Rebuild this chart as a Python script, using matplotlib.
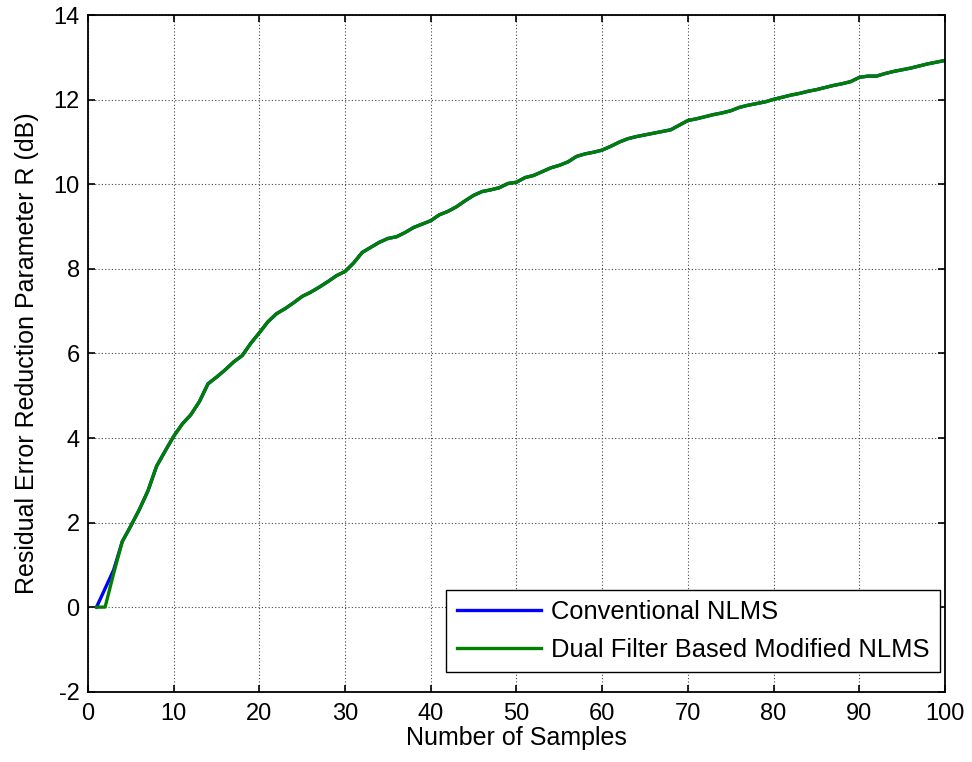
import matplotlib
matplotlib.use('Agg')
import matplotlib.pyplot as plt

# sample index 1..100
samples = list(range(1, 101))

# first few samples differ between the two filters
conv_head = [0.0, 0.44, 0.88]
dual_head = [0.0, 0.0, 0.80]

# R (dB) from sample 4 onward, identical for both methods
common_tail = [
    1.55, 1.92, 2.31, 2.75, 3.33, 3.69, 4.04,
    4.33, 4.55, 4.86, 5.28, 5.44, 5.61, 5.80, 5.95, 6.24, 6.49,
    6.75, 6.94, 7.06, 7.20, 7.35, 7.45, 7.57, 7.70, 7.84, 7.94,
    8.14, 8.39, 8.51, 8.63, 8.72, 8.76, 8.86, 8.98, 9.06, 9.14,
    9.28, 9.36, 9.47, 9.61, 9.74, 9.83, 9.87, 9.92, 10.02, 10.05,
    10.16, 10.21, 10.30, 10.39, 10.45, 10.53, 10.66, 10.72, 10.76, 10.81,
    10.90, 11.00, 11.08, 11.13, 11.17, 11.21, 11.25, 11.29, 11.40, 11.51,
    11.55, 11.60, 11.65, 11.69, 11.74, 11.82, 11.87, 11.91, 11.95, 12.01,
    12.06, 12.11, 12.15, 12.20, 12.24, 12.29, 12.34, 12.38, 12.43, 12.53,
    12.56, 12.56, 12.62, 12.67, 12.71, 12.75, 12.80, 12.85, 12.89, 12.93,
]

conv_nlms = conv_head + common_tail
dual_nlms = dual_head + common_tail

labels = ['Conventional NLMS', 'Dual Filter Based Modified NLMS']
x_ticks = list(range(0, 101, 10))
y_ticks = list(range(-2, 15, 2))

plt.rcParams['font.family'] = ['Liberation Sans', 'DejaVu Sans']
plt.rcParams['axes.unicode_minus'] = False

fig = plt.figure(figsize=(9.72, 7.62), dpi=100)
ax = fig.add_axes([0.0905, 0.0923, 0.8817, 0.8877])

ax.plot(samples, conv_nlms, color='#0000ff', lw=2.4, label=labels[0])
ax.plot(samples, dual_nlms, color='#008000', lw=2.4, label=labels[1])

ax.set_xlim(0, 100)
ax.set_ylim(-2, 14)
ax.set_xticks(x_ticks)
ax.set_yticks(y_ticks)
ax.tick_params(direction='in', length=5, width=1.2, top=True, right=True,
               labelsize=17)
ax.tick_params(axis='x', pad=8)
ax.tick_params(axis='y', pad=6)
ax.grid(True, color='#444444', linestyle=(0, (1, 2)), linewidth=0.8)
for sp in ax.spines.values():
    sp.set_linewidth(1.3)

ax.set_xlabel('Number of Samples', fontsize=18, labelpad=1)
ax.set_ylabel('Residual Error Reduction Parameter R (dB)', fontsize=18, labelpad=10)

leg = ax.legend(loc='lower right', bbox_to_anchor=(0.994, 0.029), borderaxespad=0,
                fontsize=18.4, fancybox=False, framealpha=1, edgecolor='black',
                handlelength=3.3, handletextpad=0.4, labelspacing=0.55,
                borderpad=0.4)
leg.get_frame().set_linewidth(1.0)

fig.savefig('out.png', dpi=100)
